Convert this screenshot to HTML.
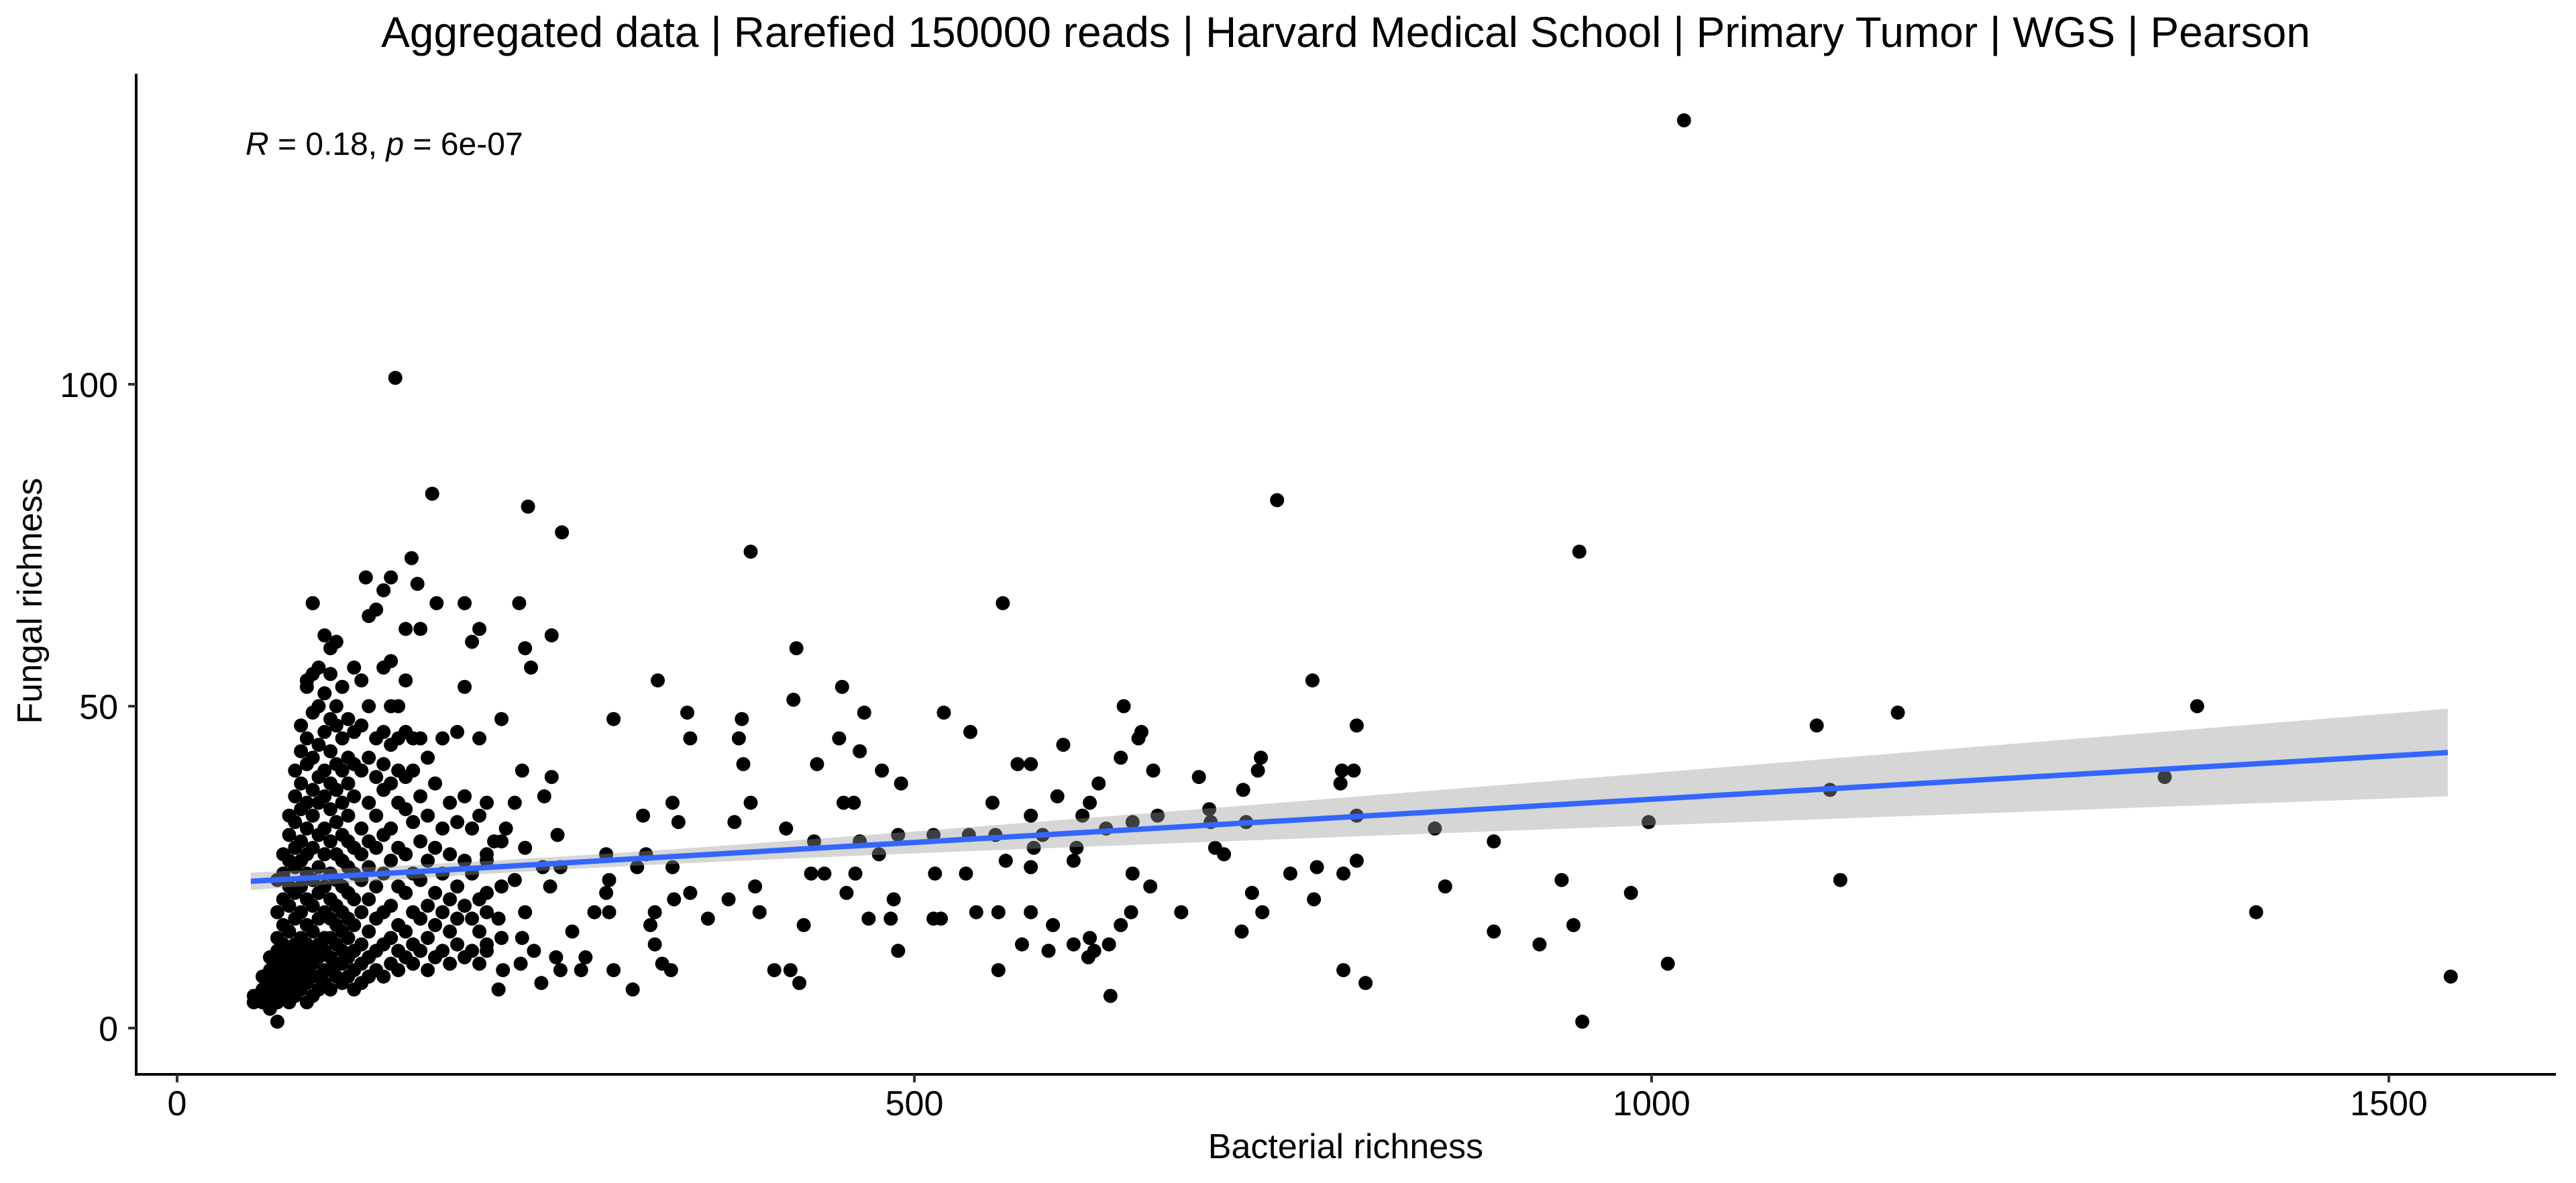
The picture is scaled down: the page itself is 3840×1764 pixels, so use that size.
<!DOCTYPE html>
<html><head><meta charset="utf-8"><style>
html,body{margin:0;padding:0;background:#fff;}
svg{display:block;font-family:"Liberation Sans",Arial,sans-serif;}
</style></head><body>
<svg id="chart" width="3840" height="1764" viewBox="0 0 3840 1764" xmlns="http://www.w3.org/2000/svg">
<rect width="3840" height="1764" fill="#fff"/>
<text x="2006" y="70" font-size="64" text-anchor="middle" fill="#000">Aggregated data | Rarefied 150000 reads | Harvard Medical School | Primary Tumor | WGS | Pearson</text>
<text x="366" y="231" font-size="48" fill="#000"><tspan font-style="italic">R</tspan> = 0.18, <tspan font-style="italic">p</tspan> = 6e-07</text>
<g id="points"></g>
<g id="smooth"></g>
<g id="axes"></g>
<text x="2006" y="1727" font-size="52" text-anchor="middle" fill="#000">Bacterial richness</text>
<text x="0" y="0" font-size="52" text-anchor="middle" fill="#000" transform="translate(62,896) rotate(-90)">Fungal richness</text>
</svg>
<script>
const xTicks=[0,500,1000,1500];
const yTicks=[0,50,100];
const xTickLabels=["0","500","1000","1500"];
const yTickLabels=["0","50","100"];
const clusterX=[52,58,63,68,72,76,80,84,88,92,96,100,104,108,112,116,120,125,130,135,140,145,150,155,160,165,170,175,180,185,190,195,200,205,210,220];
const clusterY=[[4,5],[4,6,8],[5,7,9,11,3],[1,4,6,8,10,12,14,18,23],[5,7,9,11,13,16,20,24,27],[4,6,8,10,12,15,19,22,26,30,33],[5,7,9,11,13,17,21,25,28,32,36,40],[6,8,10,12,14,18,22,26,29,34,38,43,47],[4,7,9,11,13,16,20,24,27,31,35,41,45,53,54],[5,8,10,12,15,19,23,28,33,37,42,49,55,66],[6,8,11,13,17,21,25,30,35,39,44,50,56],[7,9,12,14,18,22,27,31,36,40,46,52,61],[6,9,11,14,17,20,24,29,34,38,43,48,55,59],[8,10,13,16,19,23,27,32,37,41,47,50,60],[7,10,12,15,18,22,26,30,35,40,45,53],[8,11,14,17,21,25,29,33,38,42,48],[6,9,12,16,20,24,28,36,41,46,56],[7,10,13,18,23,27,31,40,47,54],[8,11,15,20,25,29,35,42,50,64],[9,12,17,22,28,33,39,45,65],[8,13,18,24,30,37,41,46,56,68],[10,14,19,26,31,38,44,50,57],[9,12,16,22,28,35,40,45,50],[11,15,21,27,34,39,46,62,54],[10,13,18,24,32,40,45],[12,17,23,29,36,45,62],[9,14,19,26,33,42],[11,16,21,28,38],[12,18,24,31,45],[10,15,20,27,35],[13,17,22,32,46],[11,19,26,36,66,53],[12,17,24,31,60],[10,15,20,33,45,62],[12,18,27,35],[14,22,29,48]];
const sparseX=[1022,148,173,238,261,746,951,389,159,145,128,176,232,163,92,254,240,236,420,560,326,770,451,418,520,642,1167,1370,1112,346,466,296,383,538,654,652,381,449,348,463,601,800,798,735,384,434,478,570,579,693,733,662,790,723,789,1121,1348,625,640,491,553,597,619,665,700,340,316,336,378,389,452,459,579,648,614,701,725,800,853,998,413,537,489,555,587,630,710,704,773,800,791,771,755,736,729,660,681,860,893,939,986,947,924,893,1011,1128,1410,1542,953,806,791,722,647,632,618,640,648,608,610,581,579,557,579,542,594,608,622,633,591,619,557,573,562,535,513,514,518,513,476,463,432,460,469,484,486,489,454,430,439,425,416,422,405,392,395,374,360,335,329,324,321,324,337,348,336,312,318,291,293,291,293,296,309,283,277,274,268,257,260,247,253,248,258,260,236,254,234,249,229,223,215,210,229,236,234,242,233,221,218,218,210,210];
const sparseY=[141,101,83,81,77,82,74,74,73,70,70,66,66,69,66,61,56,59,59,66,54,54,53,51,49,50,49,50,47,49,49,48,48,46,46,45,45,45,45,43,44,47,40,42,41,41,40,41,41,39,40,40,40,37,38,37,39,38,42,38,35,36,35,33,34,32,33,35,32,35,35,35,33,32,33,32,32,33,31,32,31,30,30,30,30,31,27,28,25,26,24,20,24,18,21,22,18,22,29,23,21,16,13,15,10,23,18,8,1,7,9,15,18,13,11,16,24,26,28,28,25,18,18,18,16,13,12,5,12,14,9,13,26,24,30,24,17,17,27,29,29,24,17,17,20,12,21,24,24,16,9,7,9,22,18,20,17,9,10,13,16,18,20,21,25,25,27,27,23,21,18,9,6,18,11,9,15,11,9,7,22,25,30,25,28,39,40,36,35,31,29,26,23,18,14,12,10,9,6,17,21,13];
const fitX=[50,1540];
const fitY=[22.8,42.8];

const NS="http://www.w3.org/2000/svg";
const X0=264,XS=1099/500,Y0=1533,YS=9.6;
function sx(v){return X0+v*XS;}
function sy(v){return Y0-v*YS;}
const pts=document.getElementById('points');
function dot(x,y){
  const c=document.createElementNS(NS,'circle');
  c.setAttribute('cx',sx(x));c.setAttribute('cy',sy(y));c.setAttribute('r',10.5);c.setAttribute('fill','#000');
  
  
  pts.appendChild(c);
}
clusterX.forEach((x,i)=>clusterY[i].forEach(y=>dot(x,y)));
sparseX.forEach((x,i)=>dot(x,sparseY[i]));

const sm=document.getElementById('smooth');
const slope=(fitY[1]-fitY[0])/(fitX[1]-fitX[0]);
function fy(x){return fitY[0]+slope*(x-fitX[0]);}
function hw(x){return Math.sqrt(1+2.636e-5*(x-230)*(x-230));}
let up=[],lo=[];
for(let i=0;i<=80;i++){const x=fitX[0]+(fitX[1]-fitX[0])*i/80;up.push(sx(x)+','+sy(fy(x)+hw(x)));lo.unshift(sx(x)+','+sy(fy(x)-hw(x)));}
const band=document.createElementNS(NS,'polygon');
band.setAttribute('points',up.concat(lo).join(' '));band.setAttribute('fill','#999');band.setAttribute('fill-opacity','0.4');


sm.appendChild(band);
const ln=document.createElementNS(NS,'line');
ln.setAttribute('x1',sx(fitX[0]));ln.setAttribute('y1',sy(fitY[0]));ln.setAttribute('x2',sx(fitX[1]));ln.setAttribute('y2',sy(fitY[1]));
ln.setAttribute('stroke','#3366FF');ln.setAttribute('stroke-width',8);


sm.appendChild(ln);

const ax=document.getElementById('axes');
function mk(tag,attrs){const e=document.createElementNS(NS,tag);for(const k in attrs)e.setAttribute(k,attrs[k]);ax.appendChild(e);return e;}
const ya=mk('line',{x1:203,y1:110,x2:203,y2:1604,stroke:'#000','stroke-width':4});


const xa=mk('line',{x1:201,y1:1602,x2:3810,y2:1602,stroke:'#000','stroke-width':4});


xTicks.forEach((t,i)=>{
  const tk=mk('line',{x1:sx(t),y1:1602,x2:sx(t),y2:1614,stroke:'#333','stroke-width':4});
  
  
  const tl=mk('text',{x:sx(t),y:1663,'font-size':52,'text-anchor':'middle',fill:'#000'});
  tl.textContent=xTickLabels[i];
  
  
});
yTicks.forEach((t,i)=>{
  const tk=mk('line',{x1:191,y1:sy(t),x2:203,y2:sy(t),stroke:'#333','stroke-width':4});
  
  
  const tl=mk('text',{x:176,y:sy(t)+19,'font-size':52,'text-anchor':'end',fill:'#000'});
  tl.textContent=yTickLabels[i];
  
  
});
</script>
</body></html>
